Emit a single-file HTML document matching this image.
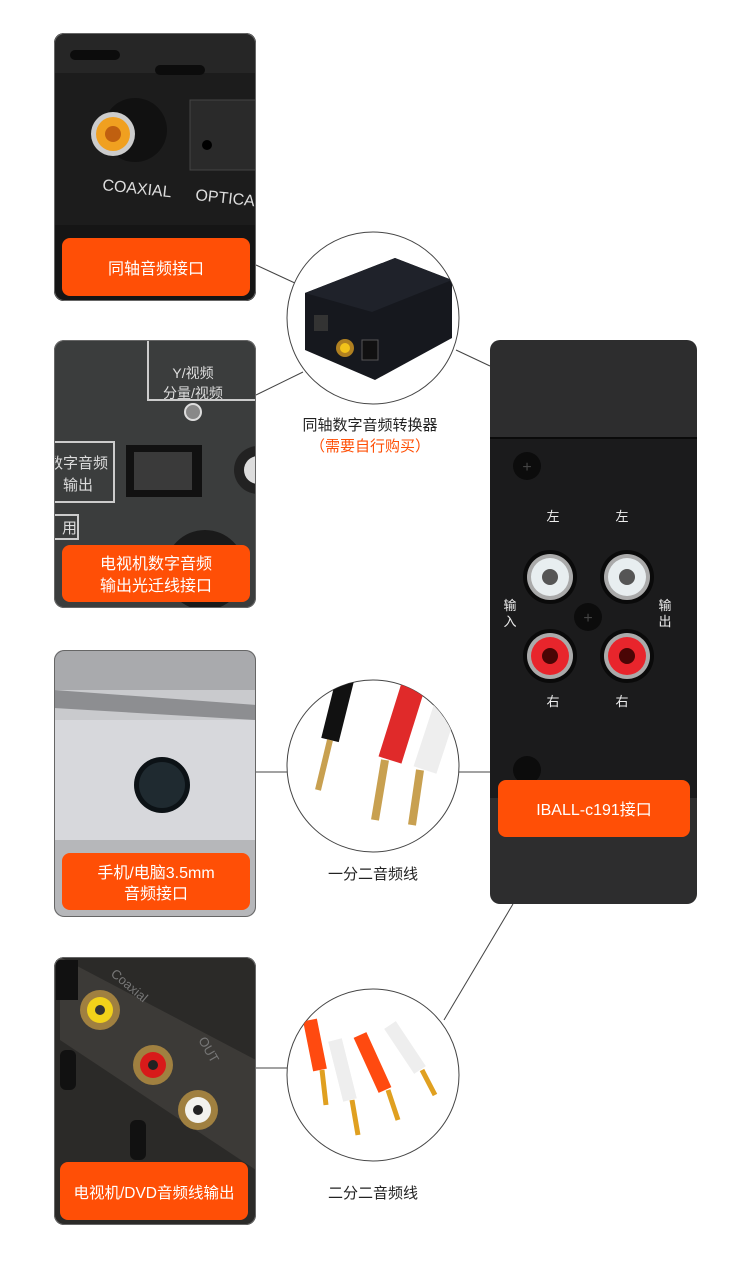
<!DOCTYPE html>
<html><head><meta charset="utf-8"><style>
body{margin:0;background:#fff;}
svg{display:block}
text{font-family:"Liberation Sans","Noto Sans CJK SC",sans-serif;}
</style></head><body>
<svg width="750" height="1279" viewBox="0 0 750 1279" xmlns="http://www.w3.org/2000/svg">
<defs>
<clipPath id="c1"><rect x="54" y="33" width="202" height="268" rx="10"/></clipPath>
<clipPath id="c2"><rect x="54" y="340" width="202" height="268" rx="10"/></clipPath>
<clipPath id="c3"><rect x="54" y="650" width="202" height="267" rx="10"/></clipPath>
<clipPath id="c4"><rect x="54" y="957" width="202" height="268" rx="10"/></clipPath>
<clipPath id="k1"><circle cx="373" cy="318" r="86"/></clipPath>
<clipPath id="k2"><circle cx="373" cy="766" r="86"/></clipPath>
<clipPath id="k3"><circle cx="373" cy="1075" r="86"/></clipPath>
</defs>
<g stroke="#444" stroke-width="1" fill="none">
<line x1="256" y1="265" x2="297" y2="284"/>
<line x1="256" y1="395" x2="303" y2="372"/>
<line x1="456" y1="350" x2="490" y2="366"/>
<line x1="256" y1="772" x2="287" y2="772"/>
<line x1="459" y1="772" x2="490" y2="772"/>
<line x1="256" y1="1068" x2="287" y2="1068"/>
<line x1="444" y1="1020" x2="513" y2="904"/>
</g>
<g clip-path="url(#c1)">
<rect x="54" y="33" width="202" height="268" fill="#1c1c1c"/>
<rect x="54" y="33" width="202" height="40" fill="#262626"/>
<rect x="70" y="50" width="50" height="10" rx="5" fill="#0c0c0c"/>
<rect x="155" y="65" width="50" height="10" rx="5" fill="#0c0c0c"/>
<circle cx="135" cy="130" r="32" fill="#111"/>
<circle cx="113" cy="134" r="22" fill="#ccc"/>
<circle cx="113" cy="134" r="17" fill="#f0a020"/>
<circle cx="113" cy="134" r="8" fill="#c06010"/>
<rect x="190" y="100" width="70" height="70" fill="#2a2a2a" stroke="#444"/>
<circle cx="207" cy="145" r="5" fill="#000"/>
<text x="102" y="190" font-size="16" fill="#ddd" transform="rotate(6 102 190)">COAXIAL</text>
<text x="195" y="200" font-size="16" fill="#ddd" transform="rotate(6 195 200)">OPTICA</text>
<rect x="54" y="225" width="202" height="80" fill="#151515"/>
</g>
<rect x="54.5" y="33.5" width="201" height="267" rx="10" fill="none" stroke="#666"/>
<rect x="62" y="238" width="188" height="58" rx="8" fill="#ff4f06"/>
<text x="156" y="274" font-size="16" fill="#fff" text-anchor="middle">同轴音频接口</text>
<g clip-path="url(#c2)">
<rect x="54" y="340" width="202" height="268" fill="#3b3d3d"/>
<path d="M148 340 V400 H256" fill="none" stroke="#ccc" stroke-width="2"/>
<text x="193" y="378" font-size="14" fill="#ddd" text-anchor="middle">Y/视频</text>
<text x="193" y="398" font-size="14" fill="#ddd" text-anchor="middle">分量/视频</text>
<circle cx="193" cy="412" r="8" fill="#888" stroke="#ddd" stroke-width="2"/>
<rect x="40" y="442" width="74" height="60" fill="none" stroke="#ccc" stroke-width="2"/>
<text x="78" y="468" font-size="15" fill="#ddd" text-anchor="middle">数字音频</text>
<text x="78" y="490" font-size="15" fill="#ddd" text-anchor="middle">输出</text>
<rect x="126" y="445" width="76" height="52" fill="#111"/>
<rect x="134" y="452" width="58" height="38" fill="#3a3a3a"/>
<circle cx="258" cy="470" r="24" fill="#222"/><circle cx="258" cy="470" r="14" fill="#ddd"/>
<rect x="40" y="515" width="38" height="24" fill="none" stroke="#ccc" stroke-width="2"/>
<text x="62" y="533" font-size="15" fill="#ddd">用</text>
<circle cx="205" cy="570" r="40" fill="#1a1a1a"/>
</g>
<rect x="54.5" y="340.5" width="201" height="267" rx="10" fill="none" stroke="#666"/>
<rect x="62" y="545" width="188" height="57" rx="8" fill="#ff4f06"/>
<text x="156" y="569" font-size="16" fill="#fff" text-anchor="middle">电视机数字音频</text>
<text x="156" y="591" font-size="16" fill="#fff" text-anchor="middle">输出光迁线接口</text>
<g clip-path="url(#c3)">
<rect x="54" y="650" width="202" height="267" fill="#c9cacd"/>
<rect x="54" y="650" width="202" height="40" fill="#a9aaad"/>
<polygon points="54,690 256,705 256,720 54,708" fill="#8d8e91"/>
<rect x="54" y="720" width="202" height="120" fill="#d7d8dc"/>
<circle cx="162" cy="785" r="28" fill="#0c1216"/>
<circle cx="162" cy="785" r="23" fill="#1f2a30"/>
<rect x="54" y="840" width="202" height="80" fill="#b6b7ba"/>
</g>
<rect x="54.5" y="650.5" width="201" height="266" rx="10" fill="none" stroke="#666"/>
<rect x="62" y="853" width="188" height="57" rx="8" fill="#ff4f06"/>
<text x="156" y="878" font-size="16" fill="#fff" text-anchor="middle">手机/电脑3.5mm</text>
<text x="156" y="899" font-size="16" fill="#fff" text-anchor="middle">音频接口</text>
<g clip-path="url(#c4)">
<rect x="54" y="957" width="202" height="268" fill="#2b2a28"/>
<polygon points="60,957 256,1060 256,1170 60,1040" fill="#3c3a37"/>
<rect x="56" y="960" width="22" height="40" fill="#111"/>
<text x="110" y="975" font-size="13" fill="#777" transform="rotate(40 110 975)">Coaxial</text>
<text x="198" y="1040" font-size="13" fill="#777" transform="rotate(60 198 1040)">OUT</text>
<circle cx="100" cy="1010" r="20" fill="#a08040"/><circle cx="100" cy="1010" r="13" fill="#f2d21a"/><circle cx="100" cy="1010" r="5" fill="#333"/>
<circle cx="153" cy="1065" r="20" fill="#a08040"/><circle cx="153" cy="1065" r="13" fill="#d81a1a"/><circle cx="153" cy="1065" r="5" fill="#222"/>
<circle cx="198" cy="1110" r="20" fill="#a08040"/><circle cx="198" cy="1110" r="13" fill="#f2f2ee"/><circle cx="198" cy="1110" r="5" fill="#222"/>
<rect x="60" y="1050" width="16" height="40" rx="6" fill="#111"/>
<rect x="130" y="1120" width="16" height="40" rx="6" fill="#111"/>
</g>
<rect x="54.5" y="957.5" width="201" height="267" rx="10" fill="none" stroke="#666"/>
<rect x="60" y="1162" width="188" height="58" rx="8" fill="#ff4f06"/>
<text x="154" y="1198" font-size="15.5" fill="#fff" text-anchor="middle">电视机/DVD音频线输出</text>
<circle cx="373" cy="318" r="86" fill="#fff" stroke="#444"/>
<g clip-path="url(#k1)">
<polygon points="305,293 395,258 452,280 452,338 375,380 305,350" fill="#16181e"/>
<polygon points="305,293 395,258 452,280 372,312" fill="#1f222a"/>
<circle cx="345" cy="348" r="9" fill="#b08020"/><circle cx="345" cy="348" r="5" fill="#f2c21a"/>
<rect x="314" y="315" width="14" height="16" fill="#333"/>
<rect x="362" y="340" width="16" height="20" fill="#111" stroke="#555"/>
</g>
<text x="370" y="430" font-size="15" fill="#222" text-anchor="middle">同轴数字音频转换器</text>
<text x="370" y="451" font-size="15" fill="#ff4f06" text-anchor="middle">（需要自行购买）</text>
<circle cx="373" cy="766" r="86" fill="#fff" stroke="#444"/>
<g clip-path="url(#k2)">
<path d="M345 680 L330 740" stroke="#111" stroke-width="18"/>
<path d="M330 740 L318 790" stroke="#c8a050" stroke-width="6"/>
<path d="M415 680 L390 760" stroke="#e02a2a" stroke-width="24"/>
<path d="M385 760 L375 820" stroke="#c8a050" stroke-width="8"/>
<path d="M448 700 L425 770" stroke="#eee" stroke-width="24"/>
<path d="M420 770 L412 825" stroke="#c8a050" stroke-width="8"/>
</g>
<text x="373" y="879" font-size="15" fill="#222" text-anchor="middle">一分二音频线</text>
<circle cx="373" cy="1075" r="86" fill="#fff" stroke="#444"/>
<g clip-path="url(#k3)">
<path d="M310 1020 L320 1070" stroke="#ff4a10" stroke-width="14"/>
<path d="M335 1040 L350 1100" stroke="#eee" stroke-width="14"/>
<path d="M360 1035 L385 1090" stroke="#ff4a10" stroke-width="14"/>
<path d="M390 1025 L420 1070" stroke="#eee" stroke-width="14"/>
<path d="M322 1070 L326 1105 M352 1100 L358 1135 M388 1090 L398 1120 M422 1070 L435 1095" stroke="#e0a020" stroke-width="5"/>
</g>
<text x="373" y="1198" font-size="15" fill="#222" text-anchor="middle">二分二音频线</text>
<rect x="490" y="340" width="207" height="564" rx="10" fill="#2d2d2e"/>
<rect x="490" y="438" width="207" height="360" fill="#1b1b1c"/>
<line x1="490" y1="438" x2="697" y2="438" stroke="#0a0a0a" stroke-width="2"/>
<circle cx="527" cy="466" r="14" fill="#0c0c0c"/>
<text x="527" y="472" font-size="16" fill="#444" text-anchor="middle">+</text>
<circle cx="588" cy="617" r="14" fill="#0c0c0c"/>
<text x="588" y="623" font-size="16" fill="#444" text-anchor="middle">+</text>
<circle cx="527" cy="770" r="14" fill="#0c0c0c"/>
<text x="553" y="521" font-size="13" fill="#eee" text-anchor="middle">左</text>
<text x="622" y="521" font-size="13" fill="#eee" text-anchor="middle">左</text>
<text x="553" y="706" font-size="13" fill="#eee" text-anchor="middle">右</text>
<text x="622" y="706" font-size="13" fill="#eee" text-anchor="middle">右</text>
<text x="510" y="610" font-size="13" fill="#eee" text-anchor="middle">输</text>
<text x="510" y="626" font-size="13" fill="#eee" text-anchor="middle">入</text>
<text x="665" y="610" font-size="13" fill="#eee" text-anchor="middle">输</text>
<text x="665" y="626" font-size="13" fill="#eee" text-anchor="middle">出</text>
<g>
<circle cx="550" cy="577" r="27" fill="#0a0a0a"/><circle cx="550" cy="577" r="23" fill="#aaa"/><circle cx="550" cy="577" r="19" fill="#e8eef0"/><circle cx="550" cy="577" r="8" fill="#555"/>
<circle cx="627" cy="577" r="27" fill="#0a0a0a"/><circle cx="627" cy="577" r="23" fill="#aaa"/><circle cx="627" cy="577" r="19" fill="#e8eef0"/><circle cx="627" cy="577" r="8" fill="#555"/>
<circle cx="550" cy="656" r="27" fill="#0a0a0a"/><circle cx="550" cy="656" r="23" fill="#aaa"/><circle cx="550" cy="656" r="19" fill="#e8252c"/><circle cx="550" cy="656" r="8" fill="#4a0505"/>
<circle cx="627" cy="656" r="27" fill="#0a0a0a"/><circle cx="627" cy="656" r="23" fill="#aaa"/><circle cx="627" cy="656" r="19" fill="#e8252c"/><circle cx="627" cy="656" r="8" fill="#4a0505"/>
</g>
<rect x="498" y="780" width="192" height="57" rx="8" fill="#ff4f06"/>
<text x="594" y="815" font-size="16" fill="#fff" text-anchor="middle">IBALL-c191接口</text>
</svg>
</body></html>
